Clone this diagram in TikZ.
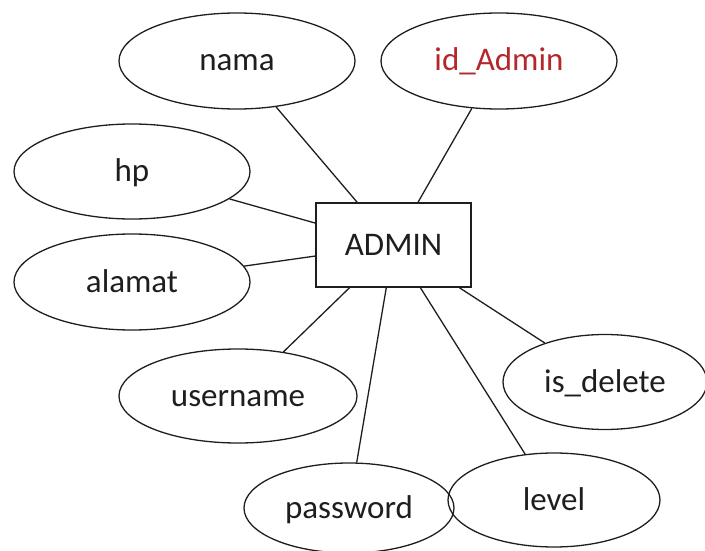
\documentclass[tikz,border=0pt]{standalone}
\usepackage{fontspec}
\setmainfont{Carlito}
\usetikzlibrary{shapes.geometric}
\definecolor{keyred}{RGB}{180,40,45}
\definecolor{ink}{RGB}{30,30,30}
\begin{document}
\begin{tikzpicture}[x=1pt,y=-1pt,
  attr/.style={ellipse,draw=ink,line width=1.3pt,inner sep=0pt,text=ink,
    text height=22pt,text depth=2pt,font=\fontsize{33}{38}\selectfont},
  entity/.style={rectangle,draw=ink,line width=1.4pt,inner sep=0pt,text=ink,
    text height=22pt,text depth=2pt,
    minimum width=155pt,minimum height=84pt,font=\fontsize{33}{38}\selectfont},
  link/.style={draw=ink,line width=1.3pt}]
\useasboundingbox (0,0) rectangle (705,551);
\node[entity] (admin) at (393.5,245) {ADMIN};
\node[attr,minimum width=236pt,minimum height=96pt] (nama) at (237,61) {nama};
\node[attr,minimum width=236pt,minimum height=96pt,text=keyred] (id) at (499,61) {id\_Admin};
\node[attr,minimum width=236pt,minimum height=95pt] (hp) at (132,171.5) {hp};
\node[attr,minimum width=236pt,minimum height=96pt] (alamat) at (132,282) {alamat};
\node[attr,minimum width=238pt,minimum height=94pt] (username) at (238,396) {username};
\node[attr,minimum width=204pt,minimum height=95pt] (isdelete) at (605,382) {is\_delete};
\node[attr,minimum width=210pt,minimum height=90pt] (password) at (349,508) {password};
\node[attr,minimum width=212pt,minimum height=94pt] (level) at (554,500) {level};
\draw[link] (nama) -- (admin);
\draw[link] (id) -- (admin);
\draw[link] (hp) -- (admin);
\draw[link] (alamat) -- (admin);
\draw[link] (username) -- (admin);
\draw[link] (password) -- (admin);
\draw[link] (level) -- (admin);
\draw[link] (isdelete) -- (admin);
\end{tikzpicture}
\end{document}
